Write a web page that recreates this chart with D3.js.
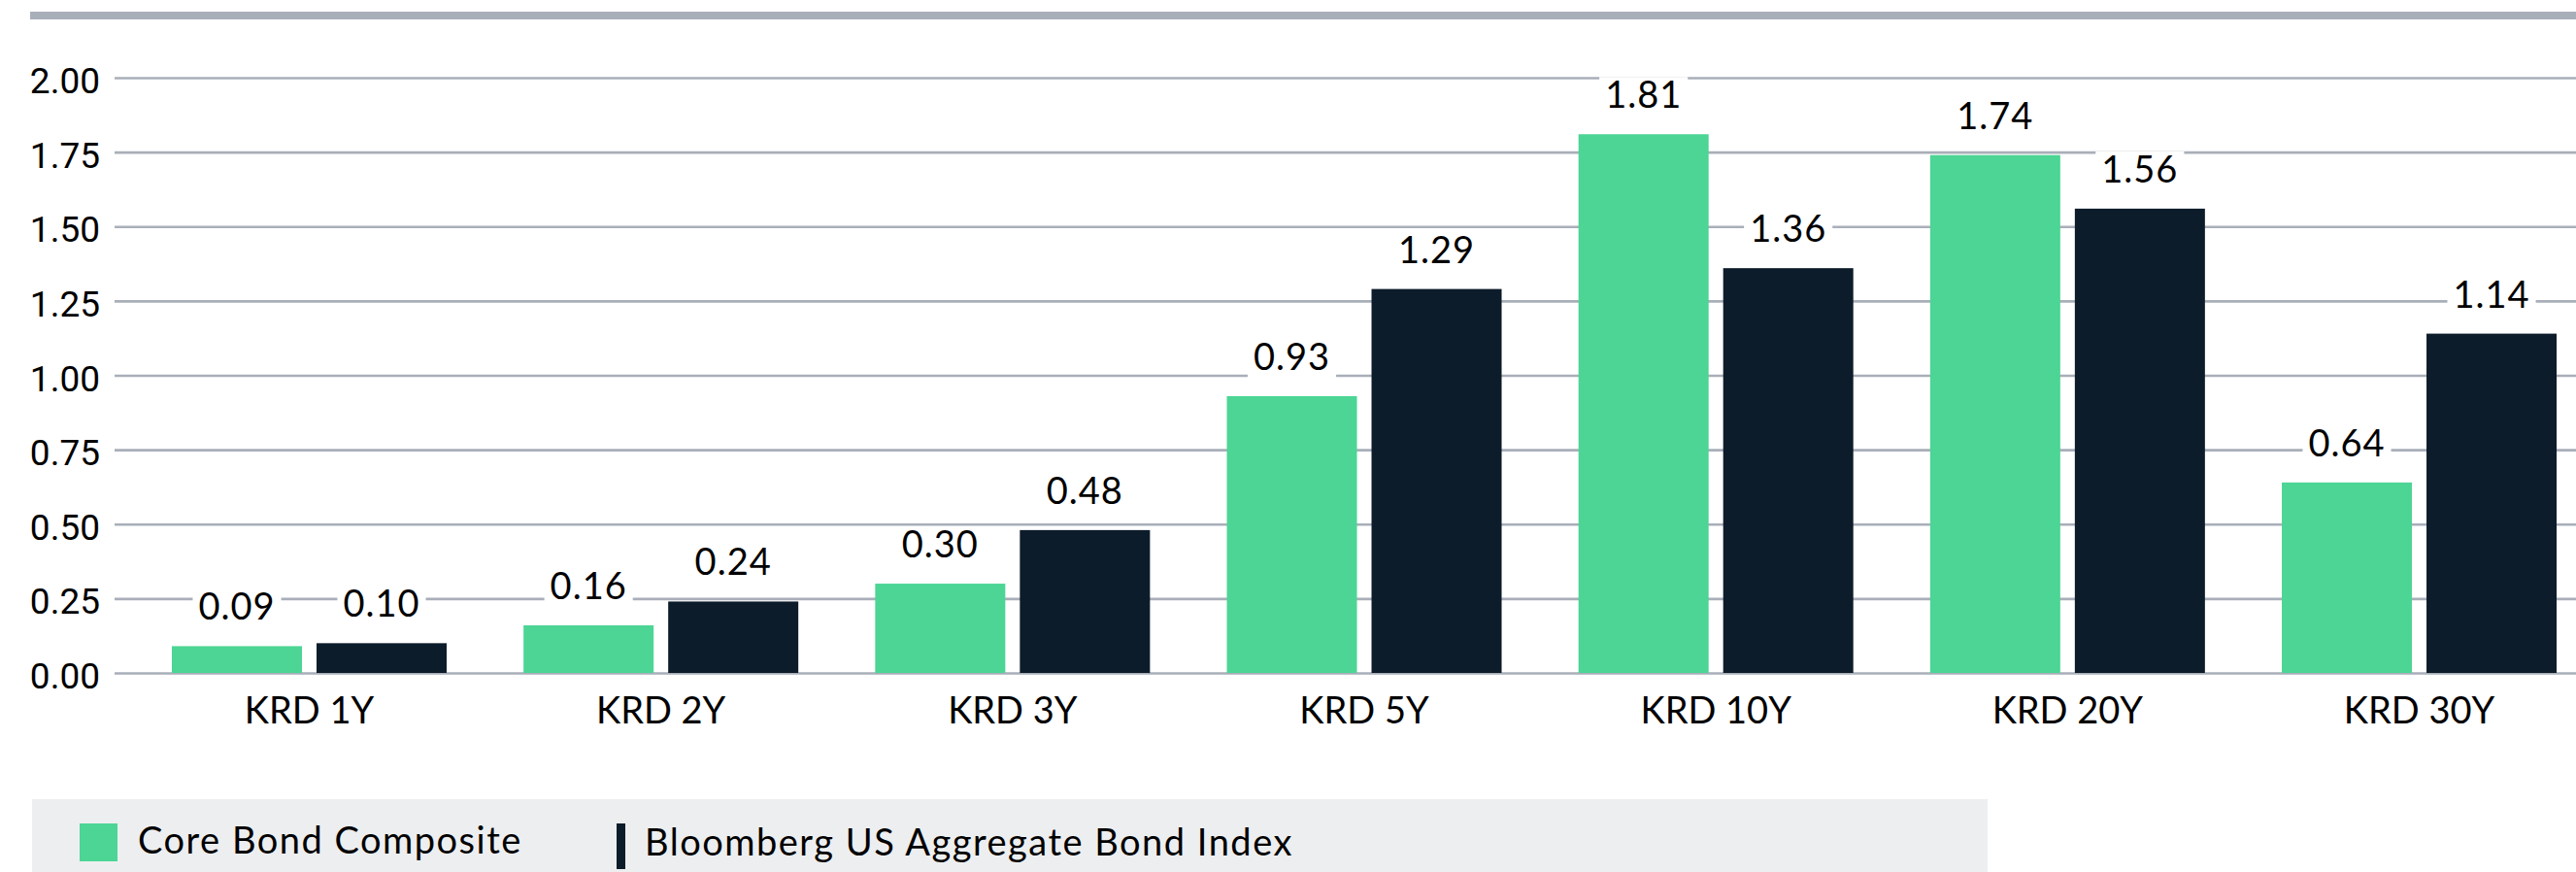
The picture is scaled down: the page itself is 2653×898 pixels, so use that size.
<!DOCTYPE html>
<html>
<head>
<meta charset="utf-8">
<script src="https://cdn.jsdelivr.net/npm/d3@7"></script>
<style>
  body { margin: 0; background: #fff; }
  svg { display: block; }
</style>
</head>
<body>
<div id="chart"></div>
<script>
// dados do gráfico
const categories = ["KRD 1Y", "KRD 2Y", "KRD 3Y", "KRD 5Y", "KRD 10Y", "KRD 20Y", "KRD 30Y"];
const seriesNames = ["Core Bond Composite", "Bloomberg US Aggregate Bond Index"];
const coreValues = [0.09, 0.16, 0.30, 0.93, 1.81, 1.74, 0.64];
const aggValues = [0.10, 0.24, 0.48, 1.29, 1.36, 1.56, 1.14];
const yTicks = [0, 0.25, 0.5, 0.75, 1.0, 1.25, 1.5, 1.75, 2.0];

const colors = { [seriesNames[0]]: "#4cd594", [seriesNames[1]]: "#0d1c2a" };
const gridColor = "#a9afb9";

const width = 2653;
const height = 898;

const data = categories.map((c, i) => ({
  name: c,
  values: [
    { key: seriesNames[0], value: coreValues[i] },
    { key: seriesNames[1], value: aggValues[i] }
  ]
}));

const svg = d3
  .select("#chart")
  .append("svg")
  .attr("width", width)
  .attr("height", height);

// faixa cinza no topo
svg
  .append("rect")
  .attr("x", 31)
  .attr("y", 12)
  .attr("width", width - 31)
  .attr("height", 8)
  .attr("fill", gridColor);

const plotLeft = 118;

const yScale = d3.scaleLinear().domain([0, 2]).range([693, 80]);

const x0 = d3
  .scaleBand()
  .domain(categories)
  .range([137.4, 2672.6])
  .padding(0);

const x1 = d3
  .scaleBand()
  .domain(seriesNames)
  .range([39.6, 322.6])
  .paddingInner(15 / 149)
  .paddingOuter(0);

// eixo Y com linhas de grade
const yAxis = svg
  .append("g")
  .attr("transform", `translate(${plotLeft},0)`)
  .call(
    d3
      .axisLeft(yScale)
      .tickValues(yTicks)
      .tickSize(-(width - plotLeft))
      .tickPadding(15)
      .tickFormat(d3.format(".2f"))
  );

yAxis.select(".domain").remove();
yAxis
  .selectAll(".tick line")
  .attr("stroke", gridColor)
  .attr("stroke-width", 2.6);
yAxis
  .selectAll(".tick text")
  .attr("dy", "0.42em")
  .attr("fill", "#000")
  .style("font-family", "Roboto, sans-serif")
  .style("font-size", "37px");

// barras
const groups = svg
  .selectAll(".group")
  .data(data)
  .enter()
  .append("g")
  .attr("class", "group")
  .attr("transform", (d) => `translate(${x0(d.name)},0)`);

groups
  .selectAll("rect")
  .data((d) => d.values)
  .enter()
  .append("rect")
  .attr("x", (d) => x1(d.key))
  .attr("y", (d) => yScale(d.value))
  .attr("width", x1.bandwidth())
  .attr("height", (d) => yScale(0) - yScale(d.value))
  .attr("fill", (d) => colors[d.key]);

// rótulos de valor com fundo branco
const labels = groups
  .selectAll(".val")
  .data((d) => d.values)
  .enter()
  .append("g")
  .attr("class", "val");

labels
  .append("text")
  .attr("x", (d) => x1(d.key) + x1.bandwidth() / 2)
  .attr("y", (d) => yScale(d.value) - 27)
  .attr("text-anchor", "middle")
  .attr("fill", "#000")
  .style("font-family", "Lato, sans-serif")
  .style("font-size", "38px")
  .style("letter-spacing", "1px")
  .text((d) => d.value.toFixed(2));

labels.each(function () {
  const g = d3.select(this);
  const t = g.select("text");
  const bb = t.node().getBBox();
  const base = +t.attr("y");
  g.insert("rect", "text")
    .attr("x", bb.x - 6)
    .attr("y", base - 32)
    .attr("width", bb.width + 12)
    .attr("height", 40)
    .attr("fill", "#fff");
});

// rótulos das categorias
svg
  .selectAll(".cat")
  .data(categories)
  .enter()
  .append("text")
  .attr("class", "cat")
  .attr("x", (d) => x0(d) + 39.6 + 283 / 2)
  .attr("y", 745)
  .attr("text-anchor", "middle")
  .attr("fill", "#000")
  .style("font-family", "Lato, sans-serif")
  .style("font-size", "38px")
  .text((d) => d);

// legenda
const legend = svg.append("g");
legend
  .append("rect")
  .attr("x", 33)
  .attr("y", 823)
  .attr("width", 2047 - 33)
  .attr("height", height - 823)
  .attr("fill", "#edeef0");

legend
  .append("rect")
  .attr("x", 82)
  .attr("y", 848)
  .attr("width", 39)
  .attr("height", 39)
  .attr("fill", colors[seriesNames[0]]);

legend
  .append("text")
  .attr("x", 142)
  .attr("y", 879)
  .attr("fill", "#000")
  .style("font-family", "Lato, sans-serif")
  .style("font-size", "38px")
  .style("letter-spacing", "1.5px")
  .text(seriesNames[0]);

legend
  .append("rect")
  .attr("x", 635)
  .attr("y", 848)
  .attr("width", 9)
  .attr("height", 47)
  .attr("fill", colors[seriesNames[1]]);

legend
  .append("text")
  .attr("x", 664)
  .attr("y", 881)
  .attr("fill", "#000")
  .style("font-family", "Lato, sans-serif")
  .style("font-size", "38px")
  .style("letter-spacing", "1.5px")
  .text(seriesNames[1]);
</script>
</body>
</html>
